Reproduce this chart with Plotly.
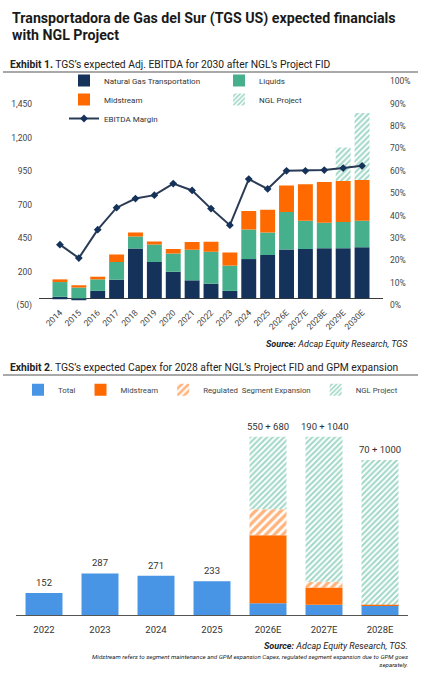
import plotly.graph_objects as go

# Exhibit 1 - Adj. EBITDA by segment (USD mn) and EBITDA margin
YEARS_1 = ["2014", "2015", "2016", "2017", "2018", "2019", "2020", "2021", "2022",
           "2023", "2024", "2025", "2026E", "2027E", "2028E", "2029E", "2030E"]
NAT_GAS = [12, -12, 56, 140, 372, 272, 199, 135, 110, 56, 294, 324, 365, 370, 375, 375, 382]
LIQUIDS = [110, 81, 86, 132, 91, 130, 137, 228, 238, 189, 221, 169, 280, 211, 191, 196, 199]
MIDSTREAM = [20, 17, 20, 56, 30, 24, 34, 59, 76, 98, 139, 169, 198, 272, 304, 306, 304]
NGL_1 = [None] * 15 + [250, 500]
MARGIN = [0.27, 0.21, 0.337, 0.435, 0.476, 0.491, 0.543, 0.512, 0.431, 0.357,
          0.563, 0.519, 0.600, 0.600, 0.603, 0.612, 0.622]
LEFT_TICKS = [-50, 200, 450, 700, 950, 1200, 1450]
LEFT_TICK_TEXT = ["(50)", "200", "450", "700", "950", "1,200", "1,450"]

# Exhibit 2 - Capex (USD mn)
YEARS_2 = ["2022", "2023", "2024", "2025", "2026E", "2027E", "2028E"]
CAPEX_TOTAL = [152, 287, 271, 233, 80, 70, 65]
CAPEX_MID = [None, None, None, None, 470, 120, 5]
CAPEX_REG = [None, None, None, None, 180, 40, 0]
CAPEX_NGL = [None, None, None, None, 500, 1000, 1000]

NAVY = "#15325a"
GREEN = "#46b08c"
ORANGE = "#ff6a00"
BLUE = "#4795e4"
TEAL = "#3fb08f"
FONT = "Roboto"
TXT = "#333333"

W, H = 421, 680


def px(x):
    return x / W


def py(y):
    return 1 - y / H


ngl_pattern = dict(shape="/", fgcolor=TEAL, bgcolor="white", size=4, solidity=0.5)
reg_pattern = dict(shape="/", fgcolor=ORANGE, bgcolor="white", size=6, solidity=0.55)

fig = go.Figure()

# ---- Exhibit 1 bars
fig.add_trace(go.Bar(x=YEARS_1, y=NAT_GAS, name="Natural Gas Transportation",
                     marker=dict(color=NAVY, line=dict(width=0)), width=0.79,
                     legend="legend"))
fig.add_trace(go.Bar(x=YEARS_1, y=LIQUIDS, name="Liquids",
                     marker=dict(color=GREEN, line=dict(width=0)), width=0.79,
                     legend="legend2"))
fig.add_trace(go.Bar(x=YEARS_1, y=MIDSTREAM, name="Midstream",
                     marker=dict(color=ORANGE, line=dict(width=0)), width=0.79,
                     legend="legend"))
fig.add_trace(go.Bar(x=YEARS_1, y=NGL_1, name="NGL Project", width=0.79,
                     marker=dict(color=TEAL, line=dict(width=0), pattern=ngl_pattern),
                     legend="legend2"))
fig.add_trace(go.Scatter(x=YEARS_1, y=MARGIN, name="EBITDA Margin", yaxis="y2",
                         mode="lines+markers",
                         line=dict(color="#2a3c55", width=2),
                         marker=dict(symbol="diamond", size=6, color=NAVY),
                         legend="legend"))

# ---- Exhibit 2 bars
fig.add_trace(go.Bar(x=YEARS_2, y=CAPEX_TOTAL, name="Total", xaxis="x2", yaxis="y3",
                     width=0.66, marker=dict(color=BLUE, line=dict(width=0)),
                     legend="legend3"))
fig.add_trace(go.Bar(x=YEARS_2, y=CAPEX_MID, name="Midstream", xaxis="x2", yaxis="y3",
                     width=0.66, marker=dict(color=ORANGE, line=dict(width=0)),
                     legend="legend3"))
fig.add_trace(go.Bar(x=YEARS_2, y=CAPEX_REG, name="Regulated  Segment Expansion",
                     xaxis="x2", yaxis="y3", width=0.66,
                     marker=dict(color=ORANGE, line=dict(width=0), pattern=reg_pattern),
                     legend="legend3"))
fig.add_trace(go.Bar(x=YEARS_2, y=CAPEX_NGL, name="NGL Project", xaxis="x2", yaxis="y3",
                     width=0.66,
                     marker=dict(color=TEAL, line=dict(width=0), pattern=ngl_pattern),
                     legend="legend3"))

# labels above Exhibit 2 stacks (x given as category index, "2022" would read as a number)
annotations = []
for i, yr in enumerate(YEARS_2):
    if CAPEX_MID[i] is None:
        label = str(CAPEX_TOTAL[i])
        top = CAPEX_TOTAL[i]
    else:
        first = CAPEX_TOTAL[i] + CAPEX_MID[i]
        second = CAPEX_REG[i] + CAPEX_NGL[i]
        label = f"{first} + {second}"
        top = first + second
    annotations.append(dict(x=i, y=top, xref="x2", yref="y3", text=label,
                            showarrow=False, yanchor="bottom", yshift=3,
                            font=dict(family=FONT, size=9.5, color=TXT)))

# titles and notes
annotations += [
    dict(x=px(10), y=py(3), xref="paper", yref="paper", xanchor="left", yanchor="top",
         text="<b>Transportadora de Gas del Sur (TGS US) expected financials</b>",
         showarrow=False, font=dict(family=FONT, size=14.2, color="#1a1a1a")),
    dict(x=px(10), y=py(20), xref="paper", yref="paper", xanchor="left", yanchor="top",
         text="<b>with NGL Project</b>",
         showarrow=False, font=dict(family=FONT, size=14.2, color="#1a1a1a")),
    dict(x=px(8), y=py(60), xref="paper", yref="paper", xanchor="left", yanchor="middle",
         text="<b>Exhibit 1.</b> TGS’s expected Adj. EBITDA for 2030 after NGL’s Project FID",
         showarrow=False, font=dict(family=FONT, size=10.3, color="#222")),
    dict(x=px(410), y=py(345), xref="paper", yref="paper", xanchor="right", yanchor="middle",
         text="<b><i>Source:</i></b><i> Adcap Equity Research, TGS</i>",
         showarrow=False, font=dict(family=FONT, size=9, color="#222")),
    dict(x=px(8), y=py(368), xref="paper", yref="paper", xanchor="left", yanchor="middle",
         text="<b>Exhibit 2</b>. TGS’s expected Capex for 2028 after NGL’s Project FID and GPM expansion",
         showarrow=False, font=dict(family=FONT, size=10.3, color="#222")),
    dict(x=px(410), y=py(652), xref="paper", yref="paper", xanchor="right", yanchor="middle",
         text="<b><i>Source:</i></b><i> Adcap Equity Research, TGS.</i>",
         showarrow=False, font=dict(family=FONT, size=9, color="#222")),
    dict(x=px(410), y=py(657), xref="paper", yref="paper", xanchor="right", yanchor="top",
         align="right",
         text="<i>Midstream refers to segment maintenance and GPM expansion Capex, regulated "
              "segment expansion due to GPM goes<br>separately.</i>",
         showarrow=False, font=dict(family=FONT, size=6.2, color="#222")),
]

shapes = [
    dict(type="line", xref="paper", yref="paper", x0=px(3), x1=px(418), y0=py(68), y1=py(68),
         line=dict(color="#8c8c8c", width=1.5)),
    dict(type="line", xref="paper", yref="paper", x0=px(3), x1=px(418), y0=py(376), y1=py(376),
         line=dict(color="#8c8c8c", width=1.5)),
]

tick_font = dict(family=FONT, size=8.5, color="#444")

fig.update_layout(
    width=W, height=H,
    margin=dict(l=0, r=0, t=0, b=0),
    paper_bgcolor="white", plot_bgcolor="white",
    barmode="relative",
    font=dict(family=FONT, color=TXT),
    annotations=annotations,
    shapes=shapes,
    xaxis=dict(type="category", domain=[px(39), px(383)], anchor="y", tickangle=-45,
               tickfont=tick_font, showgrid=False, showline=False, ticks=""),
    yaxis=dict(domain=[py(305), py(77.5)], range=[-50, 1623], tickvals=LEFT_TICKS,
               ticktext=LEFT_TICK_TEXT, tickfont=tick_font, showgrid=False,
               zeroline=True, zerolinecolor="#3a3a3a", zerolinewidth=1,
               ticklabelstandoff=6),
    yaxis2=dict(overlaying="y", side="right", range=[0, 1], tickformat=".0%", dtick=0.1,
                tickfont=tick_font, showgrid=False, zeroline=False, ticklabelstandoff=6),
    xaxis2=dict(type="category", domain=[px(16), px(408)], anchor="y3",
                range=[-0.5, len(YEARS_2) - 0.5], ticklabelstandoff=6,
                tickfont=dict(family=FONT, size=9.5, color="#333"),
                showgrid=False, showline=True, linecolor="#555", linewidth=1, ticks=""),
    yaxis3=dict(domain=[py(620), py(430)], range=[0, 1290], anchor="x2",
                showticklabels=False, showgrid=False, zeroline=False, showline=False),
    legend=dict(x=px(64), y=py(62), xanchor="left", yanchor="top", traceorder="normal",
                font=dict(family=FONT, size=8, color=TXT), bgcolor="rgba(0,0,0,0)",
                tracegroupgap=0),
    legend2=dict(x=px(219), y=py(62), xanchor="left", yanchor="top", traceorder="normal",
                 font=dict(family=FONT, size=8, color=TXT), bgcolor="rgba(0,0,0,0)",
                 tracegroupgap=0),
    legend3=dict(x=0.5, y=py(391), xanchor="center", yanchor="middle", orientation="h",
                 traceorder="normal", font=dict(family=FONT, size=7.8, color="#444"),
                 bgcolor="rgba(0,0,0,0)"),
)

# the page body has a default 8px margin; drop it so the figure fills the window
fig.write_html("out.html", config={"displayModeBar": False},
               post_script="document.body.style.margin='0';")
